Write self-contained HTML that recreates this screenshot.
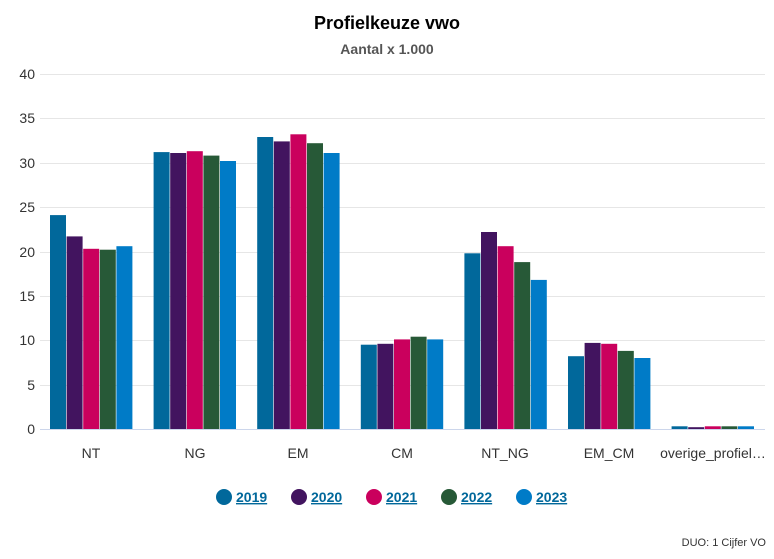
<!DOCTYPE html>
<html><head><meta charset="utf-8"><style>
body{margin:0;background:#fff;width:774px;height:554px;overflow:hidden;font-family:"Liberation Sans",sans-serif}
</style></head><body>
<svg width="774" height="554" xmlns="http://www.w3.org/2000/svg" font-family="Liberation Sans, sans-serif">
<text x="387" y="29" text-anchor="middle" font-size="18" font-weight="bold" fill="#000">Profielkeuze vwo</text>
<text x="387" y="54" text-anchor="middle" font-size="14" font-weight="bold" fill="#555">Aantal x 1.000</text>
<g stroke="#e6e6e6" stroke-width="1">
<line x1="40" x2="765" y1="74.5" y2="74.5"/><line x1="40" x2="765" y1="118.5" y2="118.5"/>
<line x1="40" x2="765" y1="163.5" y2="163.5"/><line x1="40" x2="765" y1="207.5" y2="207.5"/>
<line x1="40" x2="765" y1="252.5" y2="252.5"/><line x1="40" x2="765" y1="296.5" y2="296.5"/>
<line x1="40" x2="765" y1="340.5" y2="340.5"/><line x1="40" x2="765" y1="385.5" y2="385.5"/>
</g>
<line x1="40" x2="765" y1="429.5" y2="429.5" stroke="#ccd6eb"/>
<g font-size="14" fill="#333" text-anchor="end">
<text x="35" y="79">40</text><text x="35" y="123">35</text><text x="35" y="168">30</text>
<text x="35" y="212">25</text><text x="35" y="257">20</text><text x="35" y="301">15</text>
<text x="35" y="345">10</text><text x="35" y="390">5</text><text x="35" y="434">0</text>
</g>
<g>
<rect x="50" y="215.1" width="16" height="213.9" fill="#01689b"/>
<rect x="66.6" y="236.4" width="16" height="192.6" fill="#42145f"/>
<rect x="83.2" y="248.8" width="16" height="180.2" fill="#ca005d"/>
<rect x="99.8" y="249.7" width="16" height="179.3" fill="#275937"/>
<rect x="116.4" y="246.2" width="16" height="182.8" fill="#007bc7"/>

<rect x="153.6" y="152.1" width="16" height="276.9" fill="#01689b"/>
<rect x="170.2" y="153" width="16" height="276" fill="#42145f"/>
<rect x="186.8" y="151.2" width="16" height="277.8" fill="#ca005d"/>
<rect x="203.4" y="155.6" width="16" height="273.4" fill="#275937"/>
<rect x="220" y="161" width="16" height="268" fill="#007bc7"/>

<rect x="257.2" y="137" width="16" height="292" fill="#01689b"/>
<rect x="273.8" y="141.4" width="16" height="287.6" fill="#42145f"/>
<rect x="290.4" y="134.3" width="16" height="294.7" fill="#ca005d"/>
<rect x="307" y="143.2" width="16" height="285.8" fill="#275937"/>
<rect x="323.6" y="153" width="16" height="276" fill="#007bc7"/>

<rect x="360.8" y="344.7" width="16" height="84.3" fill="#01689b"/>
<rect x="377.4" y="343.8" width="16" height="85.2" fill="#42145f"/>
<rect x="394" y="339.4" width="16" height="89.6" fill="#ca005d"/>
<rect x="410.6" y="336.7" width="16" height="92.3" fill="#275937"/>
<rect x="427.2" y="339.4" width="16" height="89.6" fill="#007bc7"/>

<rect x="464.4" y="253.3" width="16" height="175.7" fill="#01689b"/>
<rect x="481" y="232" width="16" height="197" fill="#42145f"/>
<rect x="497.6" y="246.2" width="16" height="182.8" fill="#ca005d"/>
<rect x="514.2" y="262.1" width="16" height="166.9" fill="#275937"/>
<rect x="530.8" y="279.9" width="16" height="149.1" fill="#007bc7"/>

<rect x="568" y="356.2" width="16" height="72.8" fill="#01689b"/>
<rect x="584.6" y="342.9" width="16" height="86.1" fill="#42145f"/>
<rect x="601.2" y="343.8" width="16" height="85.2" fill="#ca005d"/>
<rect x="617.8" y="350.9" width="16" height="78.1" fill="#275937"/>
<rect x="634.4" y="358" width="16" height="71" fill="#007bc7"/>

<rect x="671.6" y="426.3" width="16" height="2.7" fill="#01689b"/>
<rect x="688.2" y="427.2" width="16" height="1.8" fill="#42145f"/>
<rect x="704.8" y="426.3" width="16" height="2.7" fill="#ca005d"/>
<rect x="721.4" y="426.3" width="16" height="2.7" fill="#275937"/>
<rect x="738" y="426.3" width="16" height="2.7" fill="#007bc7"/>
</g>
<g font-size="14" fill="#333" text-anchor="middle">
<text x="91" y="458">NT</text><text x="195" y="458">NG</text><text x="298" y="458">EM</text>
<text x="402" y="458">CM</text><text x="505" y="458">NT_NG</text><text x="609" y="458">EM_CM</text>
<text x="713" y="458">overige_profiel…</text>
</g>
<g font-size="14" font-weight="bold" fill="#01689b" text-decoration="underline">
<circle cx="224" cy="497" r="8" fill="#01689b"/><text x="236" y="502">2019</text>
<circle cx="299" cy="497" r="8" fill="#42145f"/><text x="311" y="502">2020</text>
<circle cx="374" cy="497" r="8" fill="#ca005d"/><text x="386" y="502">2021</text>
<circle cx="449" cy="497" r="8" fill="#275937"/><text x="461" y="502">2022</text>
<circle cx="524" cy="497" r="8" fill="#007bc7"/><text x="536" y="502">2023</text>
</g>
<text x="766" y="546" text-anchor="end" font-size="11" fill="#333">DUO: 1 Cijfer VO</text>
</svg>
</body></html>
